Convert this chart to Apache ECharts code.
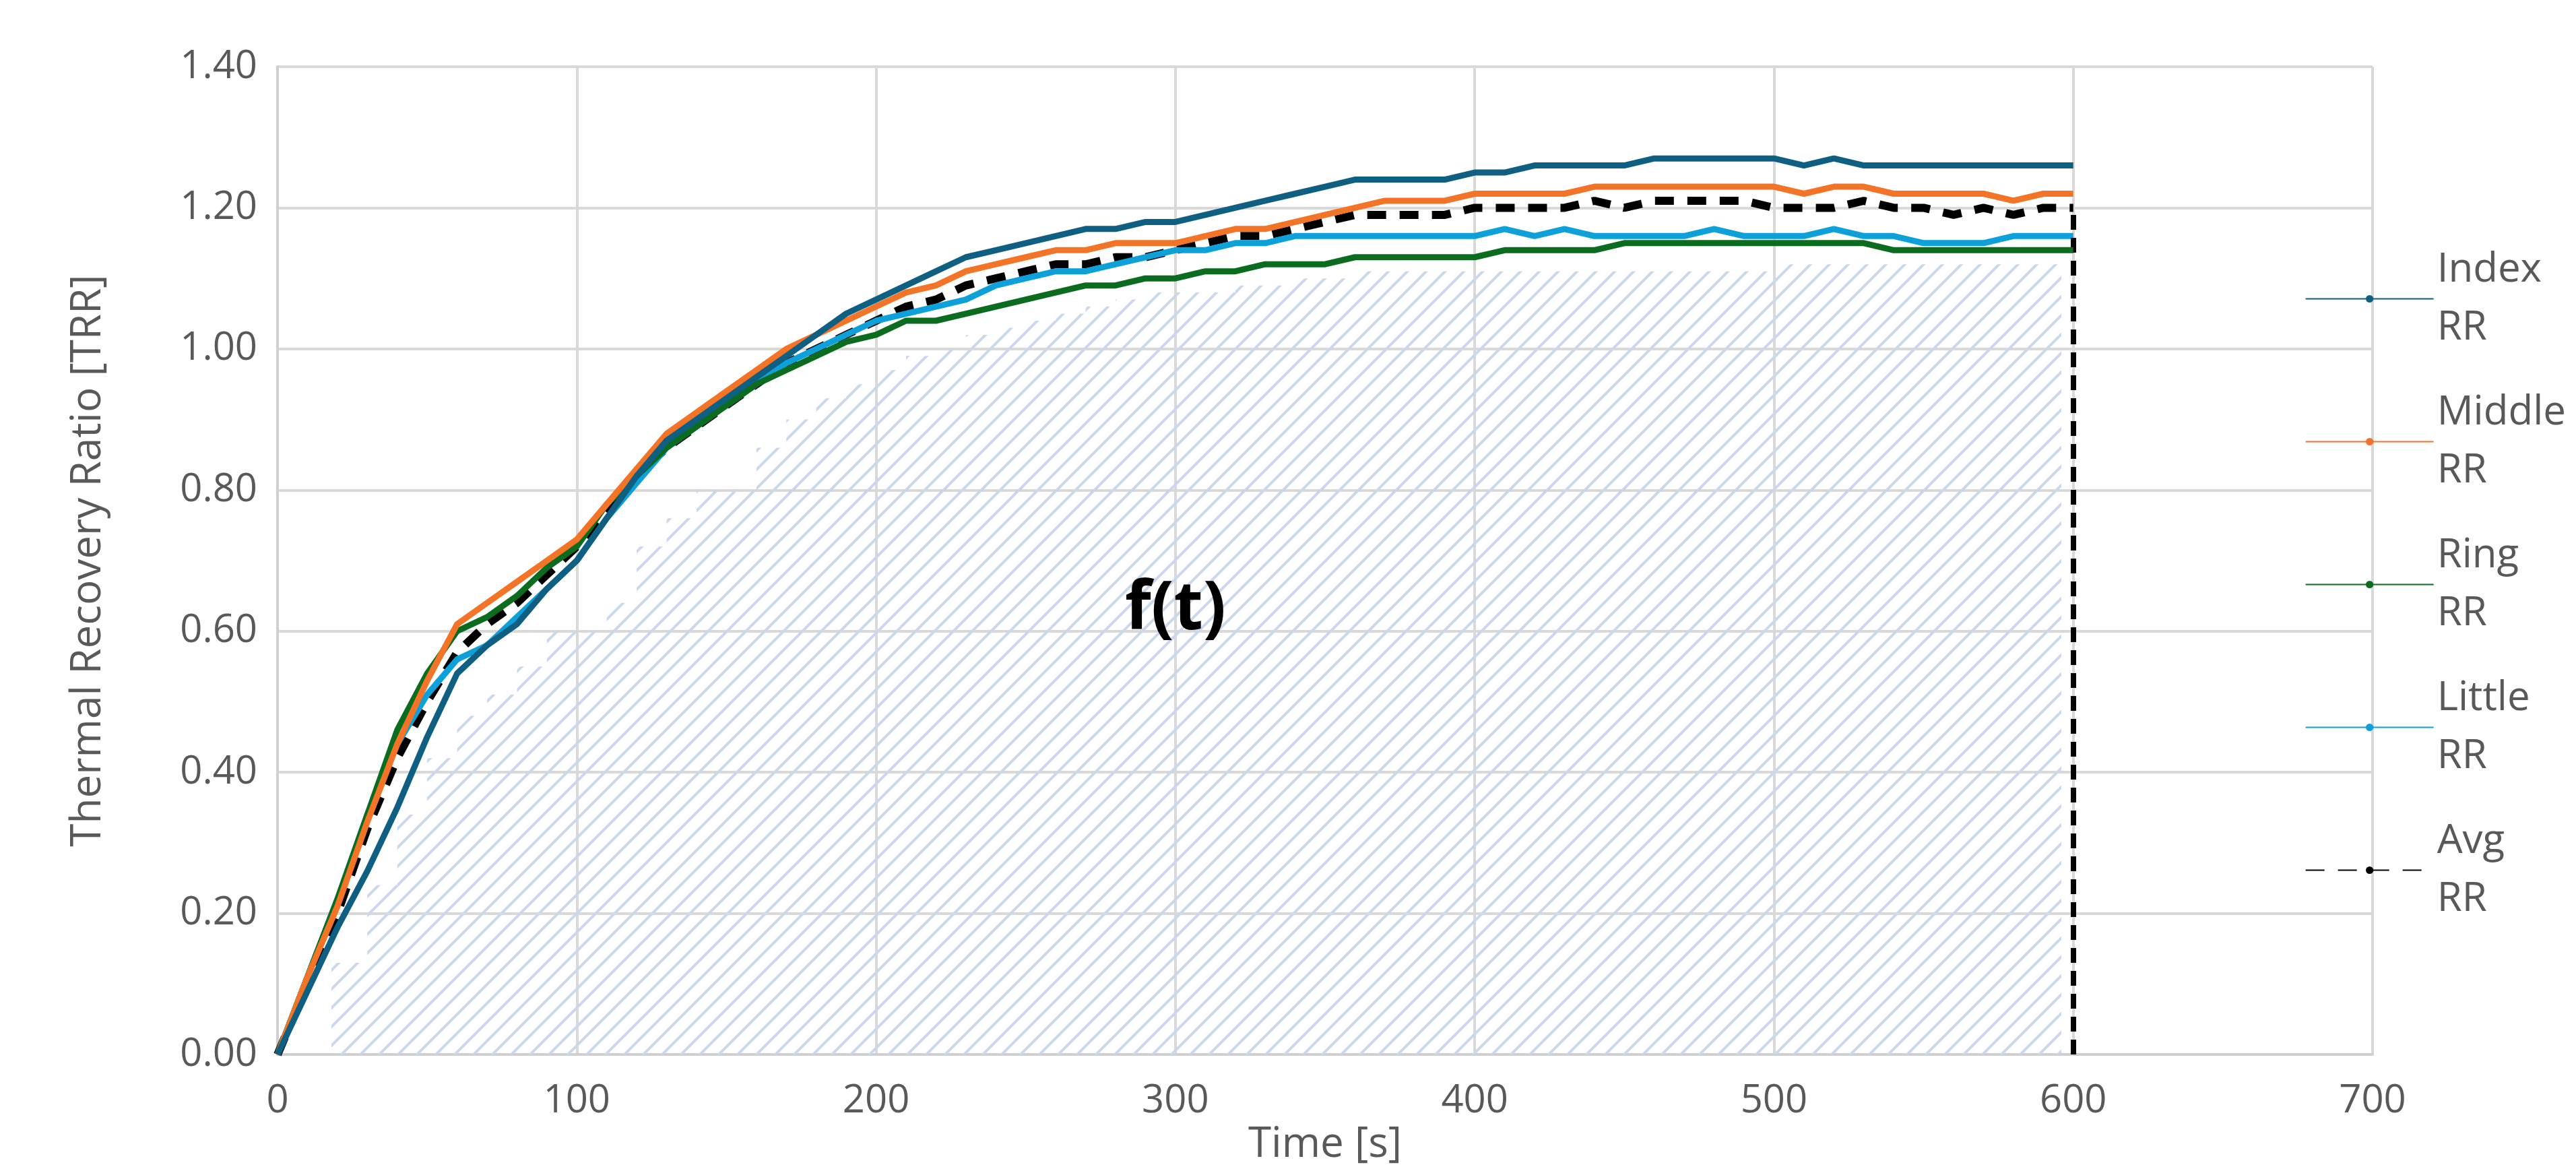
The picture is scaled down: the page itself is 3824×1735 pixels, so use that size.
<!DOCTYPE html>
<html><head><meta charset="utf-8">
<script src="https://cdn.jsdelivr.net/npm/echarts@6/dist/echarts.min.js"></script>
<style>html,body{margin:0;padding:0;background:#fff}#c{width:3824px;height:1735px}</style>
</head><body><div id="c"></div>
<script>
const time = [0,10,20,30,40,50,60,70,80,90,100,110,120,130,140,150,160,170,180,190,200,210,220,230,240,250,260,270,280,290,300,310,320,330,340,350,360,370,380,390,400,410,420,430,440,450,460,470,480,490,500,510,520,530,540,550,560,570,580,590,600];
const indexRR = [0,0.09,0.18,0.26,0.35,0.45,0.54,0.58,0.61,0.66,0.70,0.76,0.82,0.87,0.90,0.93,0.96,0.99,1.02,1.05,1.07,1.09,1.11,1.13,1.14,1.15,1.16,1.17,1.17,1.18,1.18,1.19,1.20,1.21,1.22,1.23,1.24,1.24,1.24,1.24,1.25,1.25,1.26,1.26,1.26,1.26,1.27,1.27,1.27,1.27,1.27,1.26,1.27,1.26,1.26,1.26,1.26,1.26,1.26,1.26,1.26];
const middleRR = [0,0.11,0.21,0.33,0.44,0.53,0.61,0.64,0.67,0.70,0.73,0.78,0.83,0.88,0.91,0.94,0.97,1.00,1.02,1.04,1.06,1.08,1.09,1.11,1.12,1.13,1.14,1.14,1.15,1.15,1.15,1.16,1.17,1.17,1.18,1.19,1.20,1.21,1.21,1.21,1.22,1.22,1.22,1.22,1.23,1.23,1.23,1.23,1.23,1.23,1.23,1.22,1.23,1.23,1.22,1.22,1.22,1.22,1.21,1.22,1.22];
const ringRR = [0,0.11,0.22,0.34,0.46,0.54,0.60,0.62,0.65,0.69,0.72,0.78,0.82,0.86,0.89,0.92,0.95,0.97,0.99,1.01,1.02,1.04,1.04,1.05,1.06,1.07,1.08,1.09,1.09,1.10,1.10,1.11,1.11,1.12,1.12,1.12,1.13,1.13,1.13,1.13,1.13,1.14,1.14,1.14,1.14,1.15,1.15,1.15,1.15,1.15,1.15,1.15,1.15,1.15,1.14,1.14,1.14,1.14,1.14,1.14,1.14];
const littleRR = [0,0.11,0.22,0.34,0.44,0.51,0.56,0.58,0.62,0.66,0.70,0.76,0.81,0.86,0.89,0.92,0.95,0.98,1.00,1.02,1.04,1.05,1.06,1.07,1.09,1.10,1.11,1.11,1.12,1.13,1.14,1.14,1.15,1.15,1.16,1.16,1.16,1.16,1.16,1.16,1.16,1.17,1.16,1.17,1.16,1.16,1.16,1.16,1.17,1.16,1.16,1.16,1.17,1.16,1.16,1.15,1.15,1.15,1.16,1.16,1.16];
const avgRR = [0,0.10,0.20,0.32,0.42,0.50,0.57,0.61,0.64,0.68,0.72,0.77,0.82,0.86,0.89,0.92,0.95,0.98,1.00,1.02,1.04,1.06,1.07,1.09,1.10,1.11,1.12,1.12,1.13,1.13,1.14,1.15,1.16,1.16,1.17,1.18,1.19,1.19,1.19,1.19,1.20,1.20,1.20,1.20,1.21,1.20,1.21,1.21,1.21,1.21,1.20,1.20,1.20,1.21,1.20,1.20,1.19,1.20,1.19,1.20,1.20];
const fillTime = [18,20,30,40,50,60,70,80,90,100,110,120,130,140,150,160,170,180,190,200,210,220,230,240,250,260,270,280,290,300,320,340,360,400,450,500,550,596];
const fillRR = [0.13,0.13,0.24,0.34,0.42,0.48,0.51,0.55,0.60,0.60,0.64,0.72,0.76,0.80,0.80,0.86,0.90,0.93,0.95,0.97,0.99,1.00,1.02,1.03,1.04,1.05,1.06,1.07,1.08,1.08,1.09,1.10,1.11,1.11,1.11,1.12,1.12,1.12];
const seriesNames = ['Index\nRR','Middle\nRR','Ring\nRR','Little\nRR','Avg\nRR'];
const colors = ['#0e5f82','#f47427','#0b6b1e','#0ea0d8','#000000'];

const pc = document.createElement('canvas'); pc.width = 28; pc.height = 28;
const g = pc.getContext('2d'); g.strokeStyle = '#c8d8ee'; g.lineWidth = 4;
g.beginPath(); g.moveTo(-7,35); g.lineTo(35,-7); g.moveTo(-21,21); g.lineTo(21,-21); g.moveTo(7,49); g.lineTo(49,7); g.stroke();

const pair = (xs, ys) => xs.map((x,i)=>[x, ys[i]]);
const vals = [indexRR, middleRR, ringRR, littleRR, avgRR];
const lines = vals.map((v,i)=>({
  name: seriesNames[i], type:'line', data: pair(time, v), symbol:'none', showSymbol:false, z: 3 + (4-i),
  lineStyle:{color:colors[i], width: i===4 ? 12 : 9, type: i===4 ? [28,20] : 'solid'},
  itemStyle:{color:colors[i]},
  markLine: i===4 ? {silent:true, symbol:'none', label:{show:false},
    lineStyle:{color:'#000', width:8, type:[22,12]},
    data:[[{coord:[600,0]},{coord:[600,1.2]}]]} : undefined
}));
const fill = {name:'f(t)', type:'line', step:'end', data: pair(fillTime, fillRR), symbol:'none', showSymbol:false, z:1,
  lineStyle:{width:0}, areaStyle:{color:{image:pc, repeat:'repeat'}, opacity:1},
  markPoint:{symbol:'circle', symbolSize:0, data:[{coord:[300,0.63]}],
    label:{show:true, formatter:'f(t)', color:'#000', fontSize:100, fontWeight:'bold', fontFamily:'Open Sans'}}};

const chart = echarts.init(document.getElementById('c'));
const txt = '#595959';
chart.setOption({
  animation:false, backgroundColor:'#fff',
  grid:{left:412, right:302, top:99, bottom:147},
  xAxis:{type:'value', min:0, max:700, interval:100, name:'Time [s]', nameLocation:'middle', nameGap:50,
    nameTextStyle:{color:txt, fontSize:62, fontFamily:'Open Sans'},
    axisLabel:{color:txt, fontSize:58, margin:40, fontFamily:'Open Sans'},
    axisLine:{lineStyle:{color:'#d0d0d0', width:4}}, axisTick:{show:false},
    splitLine:{show:true, lineStyle:{color:'#d9d9d9', width:4}}},
  yAxis:{type:'value', min:0, max:1.4, interval:0.2, name:'Thermal Recovery Ratio [TRR]', nameLocation:'middle', nameGap:250,
    nameTextStyle:{color:txt, fontSize:62, fontFamily:'Open Sans'},
    axisLabel:{color:txt, fontSize:58, margin:30, fontFamily:'Open Sans', formatter:v=>v.toFixed(2)},
    axisLine:{show:true, lineStyle:{color:'#d0d0d0', width:4}}, axisTick:{show:false},
    splitLine:{lineStyle:{color:'#d9d9d9', width:4}}},
  legend:{orient:'vertical', right:10, top:'middle', data:seriesNames, itemWidth:190, itemHeight:14, itemGap:40,
    textStyle:{color:txt, fontSize:60, lineHeight:86, fontFamily:'Open Sans'}},
  series:[fill, ...lines]
});
</script></body></html>
